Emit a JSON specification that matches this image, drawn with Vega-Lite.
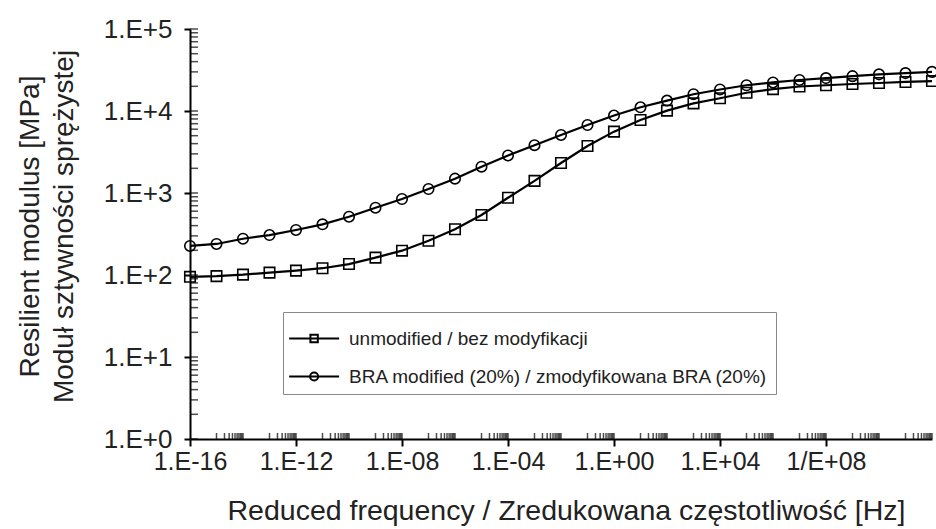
{
  "$schema": "https://vega.github.io/schema/vega-lite/v6.json",
  "width": 742,
  "height": 410,
  "autosize": "none",
  "padding": {"left": 190, "top": 29, "right": 4, "bottom": 90},
  "background": "white",
  "config": {
    "view": {"stroke": null},
    "font": "Liberation Sans",
    "axis": {"grid": false}
  },
  "datasets": {
    "main": [
      {"f": 1e-16, "U": 95, "B": 226},
      {"f": 1e-15, "U": 97, "B": 239},
      {"f": 1e-14, "U": 101, "B": 277},
      {"f": 1e-13, "U": 107, "B": 307},
      {"f": 1e-12, "U": 113, "B": 354},
      {"f": 1e-11, "U": 121, "B": 415},
      {"f": 1e-10, "U": 136, "B": 514},
      {"f": 1e-9, "U": 163, "B": 662},
      {"f": 1e-8, "U": 198, "B": 845},
      {"f": 1e-7, "U": 262, "B": 1119},
      {"f": 1e-6, "U": 361, "B": 1496},
      {"f": 1e-5, "U": 539, "B": 2094},
      {"f": 1e-4, "U": 875, "B": 2870},
      {"f": 1e-3, "U": 1405, "B": 3830},
      {"f": 1e-2, "U": 2320, "B": 5100},
      {"f": 1e-1, "U": 3740, "B": 6750},
      {"f": 1, "U": 5600, "B": 8800},
      {"f": 1e1, "U": 7770, "B": 11100},
      {"f": 1e2, "U": 10100, "B": 13400},
      {"f": 1e3, "U": 12400, "B": 16000},
      {"f": 1e4, "U": 14300, "B": 18300},
      {"f": 1e5, "U": 16700, "B": 20600},
      {"f": 1e6, "U": 18500, "B": 22300},
      {"f": 1e7, "U": 19900, "B": 23900},
      {"f": 1e8, "U": 20600, "B": 25200},
      {"f": 1e9, "U": 21350, "B": 26600},
      {"f": 1e10, "U": 21950, "B": 28000},
      {"f": 1e11, "U": 22600, "B": 29000},
      {"f": 1e12, "U": 23200, "B": 30000}
    ],
    "xminor": [
      {"v": 1e-15}, {"v": 2e-15}, {"v": 3e-15}, {"v": 4e-15}, {"v": 5e-15}, {"v": 6e-15}, {"v": 7e-15}, {"v": 8e-15}, {"v": 9e-15}, {"v": 1e-14},
      {"v": 1e-13}, {"v": 2e-13}, {"v": 3e-13}, {"v": 4e-13}, {"v": 5e-13}, {"v": 6e-13}, {"v": 7e-13}, {"v": 8e-13}, {"v": 9e-13}, {"v": 1e-12},
      {"v": 1e-11}, {"v": 2e-11}, {"v": 3e-11}, {"v": 4e-11}, {"v": 5e-11}, {"v": 6e-11}, {"v": 7e-11}, {"v": 8e-11}, {"v": 9e-11}, {"v": 1e-10},
      {"v": 1e-9}, {"v": 2e-9}, {"v": 3e-9}, {"v": 4e-9}, {"v": 5e-9}, {"v": 6e-9}, {"v": 7e-9}, {"v": 8e-9}, {"v": 9e-9}, {"v": 1e-8},
      {"v": 1e-7}, {"v": 2e-7}, {"v": 3e-7}, {"v": 4e-7}, {"v": 5e-7}, {"v": 6e-7}, {"v": 7e-7}, {"v": 8e-7}, {"v": 9e-7}, {"v": 1e-6},
      {"v": 1e-5}, {"v": 2e-5}, {"v": 3e-5}, {"v": 4e-5}, {"v": 5e-5}, {"v": 6e-5}, {"v": 7e-5}, {"v": 8e-5}, {"v": 9e-5}, {"v": 1e-4},
      {"v": 1e-3}, {"v": 2e-3}, {"v": 3e-3}, {"v": 4e-3}, {"v": 5e-3}, {"v": 6e-3}, {"v": 7e-3}, {"v": 8e-3}, {"v": 9e-3}, {"v": 1e-2},
      {"v": 1e-1}, {"v": 2e-1}, {"v": 3e-1}, {"v": 4e-1}, {"v": 5e-1}, {"v": 6e-1}, {"v": 7e-1}, {"v": 8e-1}, {"v": 9e-1}, {"v": 1},
      {"v": 1e1}, {"v": 2e1}, {"v": 3e1}, {"v": 4e1}, {"v": 5e1}, {"v": 6e1}, {"v": 7e1}, {"v": 8e1}, {"v": 9e1}, {"v": 1e2},
      {"v": 1e3}, {"v": 2e3}, {"v": 3e3}, {"v": 4e3}, {"v": 5e3}, {"v": 6e3}, {"v": 7e3}, {"v": 8e3}, {"v": 9e3}, {"v": 1e4},
      {"v": 1e5}, {"v": 2e5}, {"v": 3e5}, {"v": 4e5}, {"v": 5e5}, {"v": 6e5}, {"v": 7e5}, {"v": 8e5}, {"v": 9e5}, {"v": 1e6},
      {"v": 1e7}, {"v": 2e7}, {"v": 3e7}, {"v": 4e7}, {"v": 5e7}, {"v": 6e7}, {"v": 7e7}, {"v": 8e7}, {"v": 9e7}, {"v": 1e8},
      {"v": 1e9}, {"v": 2e9}, {"v": 3e9}, {"v": 4e9}, {"v": 5e9}, {"v": 6e9}, {"v": 7e9}, {"v": 8e9}, {"v": 9e9}, {"v": 1e10},
      {"v": 1e11}, {"v": 2e11}, {"v": 3e11}, {"v": 4e11}, {"v": 5e11}, {"v": 6e11}, {"v": 7e11}, {"v": 8e11}, {"v": 9e11}, {"v": 1e12}
    ],
    "yminor": [
      {"v": 1}, {"v": 2}, {"v": 3}, {"v": 4}, {"v": 5}, {"v": 6}, {"v": 7}, {"v": 8}, {"v": 9},
      {"v": 10}, {"v": 20}, {"v": 30}, {"v": 40}, {"v": 50}, {"v": 60}, {"v": 70}, {"v": 80}, {"v": 90},
      {"v": 100}, {"v": 200}, {"v": 300}, {"v": 400}, {"v": 500}, {"v": 600}, {"v": 700}, {"v": 800}, {"v": 900},
      {"v": 1000}, {"v": 2000}, {"v": 3000}, {"v": 4000}, {"v": 5000}, {"v": 6000}, {"v": 7000}, {"v": 8000}, {"v": 9000},
      {"v": 10000}, {"v": 20000}, {"v": 30000}, {"v": 40000}, {"v": 50000}, {"v": 60000}, {"v": 70000}, {"v": 80000}, {"v": 90000},
      {"v": 100000}
    ]
  },
  "layer": [
    {
      "data": {"name": "main"},
      "transform": [{"fold": ["U", "B"], "as": ["series", "E"]}],
      "mark": {"type": "line", "color": "black", "strokeWidth": 2.2},
      "encoding": {
        "x": {
          "field": "f", "type": "quantitative",
          "scale": {"type": "log", "domain": [1e-16, 1e12], "nice": false},
          "axis": {
            "values": [1e-16, 1e-12, 1e-8, 1e-4, 1, 1e4, 1e8],
            "labelExpr": "(round(log(datum.value)/LN10) == 8 ? '1/E' : '1.E') + (datum.value < 1 ? '-' : '+') + (abs(round(log(datum.value)/LN10)) < 10 ? '0' : '') + abs(round(log(datum.value)/LN10))",
            "labelFlush": false,
            "labelOverlap": false,
            "labelFont": "Liberation Sans",
            "labelFontSize": 25,
            "labelColor": "#222",
            "labelPadding": 3,
            "tickSize": 7,
            "tickWidth": 2,
            "tickColor": "black",
            "domainColor": "black",
            "domainWidth": 2,
            "title": "Reduced frequency / Zredukowana częstotliwość [Hz]",
            "titleFont": "Liberation Sans",
            "titleFontSize": 28.5,
            "titleFontWeight": "normal",
            "titleColor": "#222",
            "titleX": 376,
            "titleY": 80,
            "titleBaseline": "alphabetic",
            "titleAlign": "center"
          }
        },
        "y": {
          "field": "E", "type": "quantitative",
          "scale": {"type": "log", "domain": [1, 100000], "nice": false},
          "axis": {
            "values": [1, 10, 100, 1000, 10000, 100000],
            "labelExpr": "'1.E+' + round(log(datum.value)/LN10)",
            "labelOverlap": false,
            "labelFont": "Liberation Sans",
            "labelFontSize": 26,
            "labelColor": "#222",
            "labelPadding": 12,
            "tickSize": 6,
            "tickWidth": 2,
            "tickColor": "black",
            "domainColor": "black",
            "domainWidth": 2,
            "title": ["Resilient modulus [MPa]", "Moduł sztywności sprężystej"],
            "titleFont": "Liberation Sans",
            "titleFontSize": 28,
            "titleFontWeight": "normal",
            "titleColor": "#222",
            "titleAngle": -90,
            "titleX": -174,
            "titleY": 197,
            "titleBaseline": "top",
            "titleAlign": "center",
            "titleLineHeight": 34
          }
        },
        "detail": {"field": "series"}
      }
    },
    {
      "data": {"name": "main"},
      "mark": {"type": "point", "shape": "square", "filled": false, "color": "black", "strokeWidth": 1.6, "size": 110, "opacity": 1},
      "encoding": {
        "x": {"field": "f", "type": "quantitative"},
        "y": {"field": "U", "type": "quantitative"}
      }
    },
    {
      "data": {"name": "main"},
      "mark": {"type": "point", "shape": "circle", "filled": false, "color": "black", "strokeWidth": 1.6, "size": 110, "opacity": 1},
      "encoding": {
        "x": {"field": "f", "type": "quantitative"},
        "y": {"field": "B", "type": "quantitative"}
      }
    },
    {
      "data": {"name": "main"},
      "transform": [{"fold": ["U", "B"], "as": ["series", "E"]}],
      "mark": {"type": "point", "filled": false, "color": "black", "opacity": 0},
      "encoding": {
        "x": {"field": "f", "type": "quantitative"},
        "y": {"field": "E", "type": "quantitative"},
        "shape": {
          "field": "series", "type": "nominal",
          "scale": {
            "domain": ["U", "B"],
            "range": [
              "M-1.1,0H1.6M0.05,-0.2H0.45V0.2H0.05Z",
              "M-1.1,0H1.6M0.03,0A0.22,0.22,0,1,0,0.47,0A0.22,0.22,0,1,0,0.03,0Z"
            ]
          },
          "legend": {
            "orient": "none",
            "legendX": 93,
            "legendY": 283,
            "title": null,
            "labelExpr": "datum.label == 'U' ? 'unmodified / bez modyfikacji' : 'BRA modified (20%) / zmodyfikowana BRA (20%)'",
            "strokeColor": "#888",
            "fillColor": "white",
            "padding": 7,
            "rowPadding": 8,
            "labelFont": "Liberation Sans",
            "labelFontSize": 19,
            "labelColor": "#222",
            "labelOffset": 20,
            "labelLimit": 600,
            "symbolSize": 1369,
            "symbolStrokeWidth": 2,
            "symbolStrokeColor": "black",
            "symbolFillColor": "white",
            "symbolOpacity": 1
          }
        }
      }
    },
    {
      "data": {"name": "xminor"},
      "mark": {"type": "tick", "orient": "vertical", "color": "black", "size": 6, "thickness": 1.5, "yOffset": -3},
      "encoding": {
        "x": {"field": "v", "type": "quantitative"},
        "y": {"datum": 1, "type": "quantitative"}
      }
    },
    {
      "data": {"name": "yminor"},
      "mark": {"type": "tick", "orient": "horizontal", "color": "black", "size": 8, "thickness": 1.5, "xOffset": 4},
      "encoding": {
        "x": {"datum": 1e-16, "type": "quantitative"},
        "y": {"field": "v", "type": "quantitative"}
      }
    }
  ]
}
